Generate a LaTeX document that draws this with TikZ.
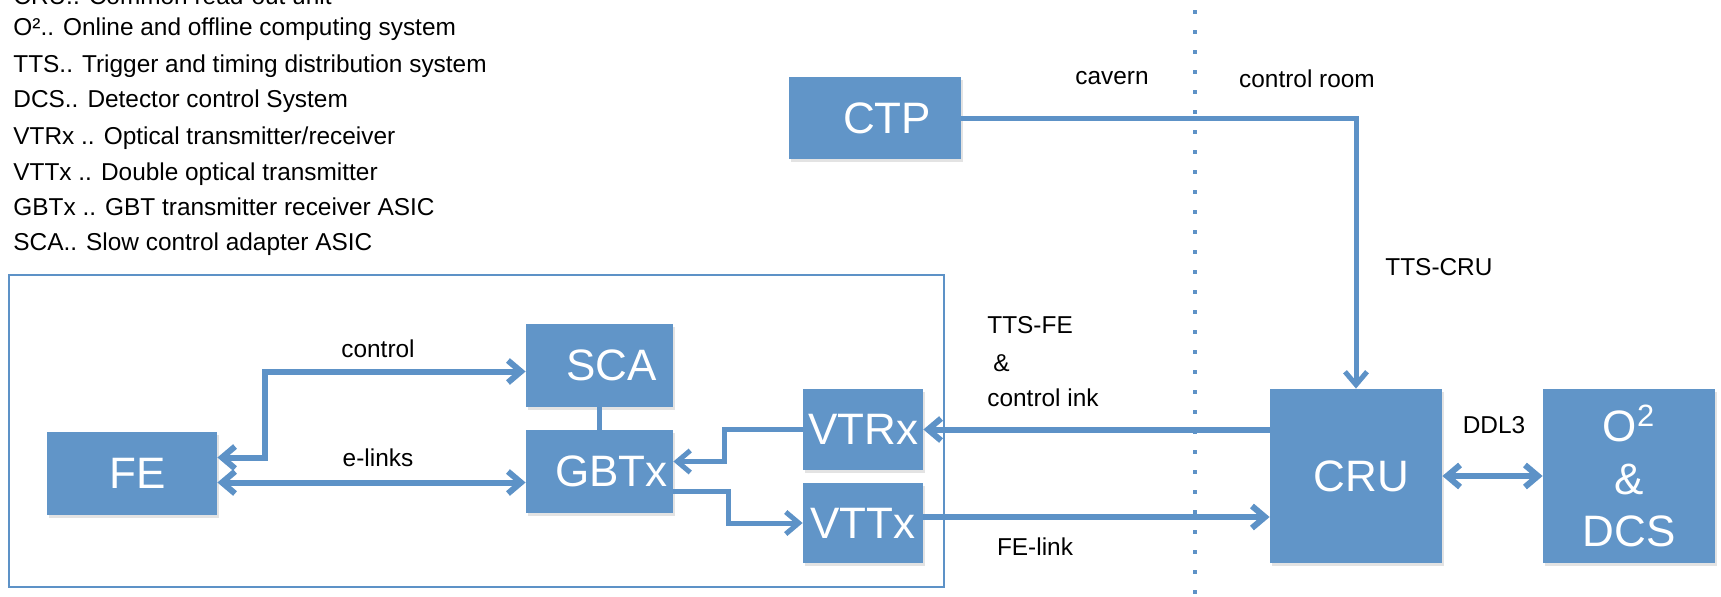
\documentclass[tikz,border=0pt]{standalone}
\usepackage{fontspec}
\setmainfont{Liberation Sans}
\usetikzlibrary{arrows.meta,calc,shadows}

\definecolor{boxblue}{RGB}{97,149,200}
\definecolor{linkblue}{RGB}{93,146,199}

\tikzset{
  blk/.style={fill=boxblue, draw=none, inner sep=0pt, text=white, align=center,
    font=\fontsize{22}{26.25}\selectfont,
    drop shadow={shadow xshift=1.2pt, shadow yshift=-1.5pt, opacity=0.22}},
  link/.style={draw=linkblue, line width=3pt},
  thinlink/.style={draw=linkblue, line width=2.5pt},
  arr/.style={-{Straight Barb[length=6.5pt,width=11pt]}},
  darr/.style={{Straight Barb[length=6.5pt,width=11pt]}-{Straight Barb[length=6.5pt,width=11pt]}},
  lbl/.style={font=\fontsize{12.2}{14}\selectfont, text=black, inner sep=0pt},
  legend/.style={lbl, anchor=base west},
}
% block captions sit a little right of the block centre
\newcommand\padcap[2]{\hspace*{#1}#2}

\begin{document}
\begin{tikzpicture}[x=0.5pt, y=-0.5pt]
  \useasboundingbox (0,0) rectangle (1721,596);
  \clip (0,0) rectangle (1721,596);

  % abbreviations
  \node[legend] (ab0) at (13,4)   {CRU.. Common read-out unit};
  \node[legend] (ab1) at (13,35)  {O².. Online and offline computing system};
  \node[legend] (ab2) at (13,72)  {TTS.. Trigger and timing distribution system};
  \node[legend] (ab3) at (13,107) {DCS.. Detector control System};
  \node[legend] (ab4) at (13,144) {VTRx .. Optical transmitter/receiver};
  \node[legend] (ab5) at (13,180) {VTTx .. Double optical transmitter};
  \node[legend] (ab6) at (13,215) {GBTx .. GBT transmitter receiver ASIC};
  \node[legend] (ab7) at (13,250) {SCA.. Slow control adapter ASIC};

  % cavern / control room boundary
  \draw[linkblue, line width=2pt, dash pattern=on 2pt off 8pt, dash phase=5pt]
    (1195,0) -- (1195,596);

  % front-end board
  \draw[linkblue, line width=1pt] (9,275) rectangle (944,587);

  % blocks
  \node[blk, minimum width=86pt,   minimum height=41pt]   (ctp)  at (875,118)     {\padcap{12pt}{CTP}};
  \node[blk, minimum width=85pt,   minimum height=41.5pt] (fe)   at (132,473.5)   {\padcap{5.5pt}{FE}};
  \node[blk, minimum width=73.5pt, minimum height=41.5pt] (sca)  at (599.5,365.5) {\padcap{12pt}{SCA}};
  \node[blk, minimum width=73.5pt, minimum height=41.5pt] (gbtx) at (599.5,471.5) {\padcap{12pt}{GBTx}};
  \node[blk, minimum width=60pt,   minimum height=40.5pt] (vtrx) at (863,429.5)   {VTRx};
  \node[blk, minimum width=60pt,   minimum height=40pt]   (vttx) at (863,523)     {VTTx};
  \node[blk, minimum width=86pt,   minimum height=87pt]   (cru)  at (1356,476)    {\padcap{5.5pt}{CRU}};
  \node[blk, minimum width=86pt,   minimum height=87pt]   (o2)   at (1629,476)    {O\textsuperscript{2}\\\&\\DCS};

  % links
  \draw[thinlink, arr] (ctp.east) -| (cru.north);
  \draw[link, arr] (cru.west |- vtrx.east) -- (vtrx.east);
  \coordinate (vttxout) at ($(vttx.east)+(0,-6)$);
  \draw[link, arr] (vttxout) -- (vttxout -| cru.west);
  \draw[link, darr] (cru.east) -- (o2.west);

  \draw[thinlink, arr] (vtrx.west) -- ++(-78,0) |- ($(gbtx.east)+(0,-10)$);
  \coordinate (gbout) at ($(gbtx.east)+(0,20)$);
  \draw[thinlink, arr] (gbout) -- ++(55,0) |- (vttx.west);
  \draw[thinlink] (sca.south) -- (gbtx.north);

  \coordinate (elk) at ($(fe.east)+(0,9)$);
  \draw[link, darr] (elk) -- (elk -| gbtx.west);
  \coordinate (ctl) at ($(fe.east)+(0,-16)$);
  \draw[link, darr] (ctl) -- ++(48,0) |- ($(sca.west)+(0,6)$);

  % link labels
  \node[lbl] (lcontrol) at (378,349)  {control};
  \node[lbl] (lelinks)  at (378,458)  {e-links};
  \node[lbl] (lcavern)  at (1112,78)  {cavern};
  \node[lbl] (lroom)    at (1307,79)  {control room};
  \node[lbl, anchor=west] (lttscru) at (1385,267) {TTS-CRU};
  \node[lbl, anchor=west] (lttsfe)  at (987,325)  {TTS-FE};
  \node[lbl, anchor=west] (lamp)    at (993,363)  {\&};
  \node[lbl, anchor=west] (lctlink) at (987,398)  {control ink};
  \node[lbl] (lfelink)  at (1035,547) {FE-link};
  \node[lbl] (lddl)     at (1494,425) {DDL3};
\end{tikzpicture}
\end{document}
